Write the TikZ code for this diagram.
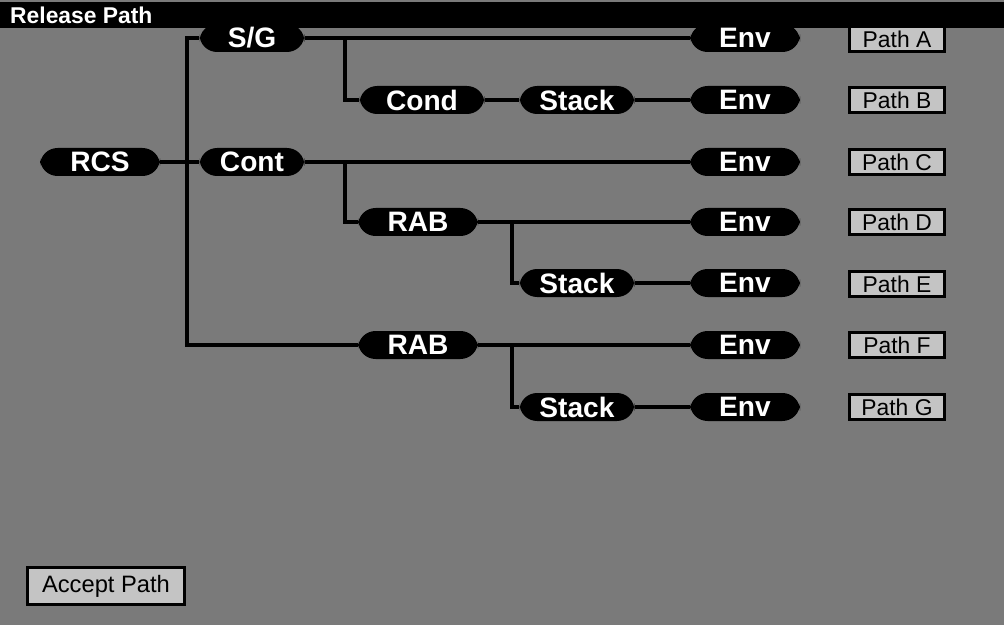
\documentclass[tikz,border=0pt]{standalone}
\usepackage{fontspec}
\setmainfont{Liberation Sans}
\usepackage{xcolor}
\definecolor{panelgray}{RGB}{122,122,122}
\definecolor{btngray}{RGB}{196,196,196}
\usetikzlibrary{arrows.meta,positioning,calc}

\begin{document}
\begin{tikzpicture}[
  pill/.style={fill=black,text=white,rounded corners=10pt,inner sep=0pt,
    minimum height=0.56cm,font=\fontsize{16}{18}\selectfont\bfseries},
  btn/.style={draw=black,line width=1.6pt,fill=btngray,inner sep=0pt,
    minimum height=0.5cm,font=\fontsize{13}{15}\selectfont},
  wire/.style={line width=2.4pt,black}
]
  % panel
  \fill[panelgray] (0,0) rectangle (20.08,-12.5);
  \useasboundingbox (0,0) rectangle (20.08,-12.5);
  \fill[black] (0,-0.04) rectangle (20.08,-0.56);
  \node[anchor=west,text=white,font=\fontsize{13}{15}\selectfont\bfseries] (title) at (0.08,-0.3) {Release Path};
  % junctions
  \coordinate (bus) at (3.74,-3.24);
  \coordinate (j1) at (6.9,-0.76);
  \coordinate (j2) at (6.9,-3.24);
  \coordinate (j3) at (10.24,-4.44);
  \coordinate (j4) at (10.24,-6.9);
  % nodes
  \node[pill,minimum width=2.4cm] (rcs) at (2.0,-3.24) {RCS};
  \node[pill,minimum width=2.1cm] (sg) at (5.04,-0.76) {S/G};
  \node[pill,minimum width=2.1cm] (cont) at (5.04,-3.24) {Cont};
  \node[pill,minimum width=2.5cm] (cond) at (8.44,-2.0) {Cond};
  \node[pill,minimum width=2.4cm] (rab1) at (8.36,-4.44) {RAB};
  \node[pill,minimum width=2.4cm] (rab2) at (8.36,-6.9) {RAB};
  \node[pill,minimum width=2.3cm] (stack1) at (11.54,-2.0) {Stack};
  \node[pill,minimum width=2.3cm] (stack2) at (11.54,-5.66) {Stack};
  \node[pill,minimum width=2.3cm] (stack3) at (11.54,-8.14) {Stack};
  \node[pill,minimum width=2.2cm] (enva) at (14.9,-0.76) {Env};
  \node[pill,minimum width=2.2cm] (envb) at (14.9,-2.0) {Env};
  \node[pill,minimum width=2.2cm] (envc) at (14.9,-3.24) {Env};
  \node[pill,minimum width=2.2cm] (envd) at (14.9,-4.44) {Env};
  \node[pill,minimum width=2.2cm] (enve) at (14.9,-5.66) {Env};
  \node[pill,minimum width=2.2cm] (envf) at (14.9,-6.9) {Env};
  \node[pill,minimum width=2.2cm] (envg) at (14.9,-8.14) {Env};
  % wires
  \draw[wire] (rcs) -- (cont);
  \draw[wire] (sg.west) -| (bus) |- (rab2.west);
  \draw[wire] (sg) -- (enva);
  \draw[wire] (j1) |- (cond.west);
  \draw[wire] (cond) -- (stack1) (stack1) -- (envb);
  \draw[wire] (cont) -- (envc);
  \draw[wire] (j2) |- (rab1.west);
  \draw[wire] (rab1) -- (envd);
  \draw[wire] (j3) |- (stack2.west);
  \draw[wire] (stack2) -- (enve);
  \draw[wire] (rab2) -- (envf);
  \draw[wire] (j4) |- (stack3.west);
  \draw[wire] (stack3) -- (envg);
  % buttons
  \node[btn,minimum width=1.9cm] (patha) at (17.94,-0.78) {Path A};
  \node[btn,minimum width=1.9cm] (pathb) at (17.94,-2.0) {Path B};
  \node[btn,minimum width=1.9cm] (pathc) at (17.94,-3.24) {Path C};
  \node[btn,minimum width=1.9cm] (pathd) at (17.94,-4.44) {Path D};
  \node[btn,minimum width=1.9cm] (pathe) at (17.94,-5.68) {Path E};
  \node[btn,minimum width=1.9cm] (pathf) at (17.94,-6.9) {Path F};
  \node[btn,minimum width=1.9cm] (pathg) at (17.94,-8.14) {Path G};
  \node[btn,minimum width=3.14cm,minimum height=0.74cm,font=\fontsize{13.5}{15}\selectfont] (accept) at (2.12,-11.72) {Accept Path};
\end{tikzpicture}
\end{document}
